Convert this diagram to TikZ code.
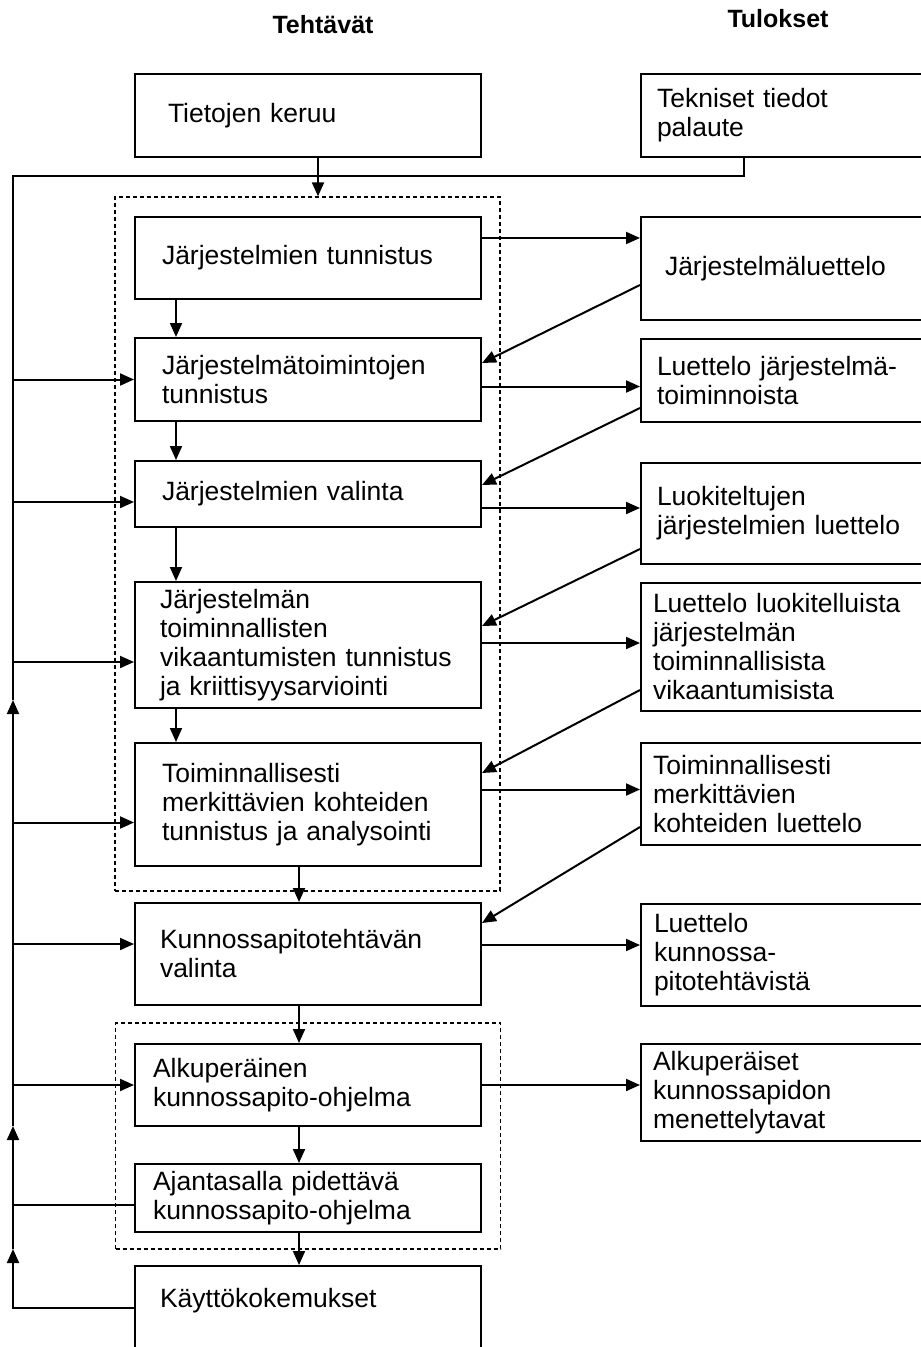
\documentclass[tikz,border=0pt]{standalone}
\usepackage{fontspec}
\setmainfont{Liberation Sans}
\usetikzlibrary{arrows.meta,calc,positioning}

\tikzset{
  task/.style={draw, line width=2pt, inner xsep=27pt, inner ysep=3pt, text width=292pt, align=left, font=\fontsize{26.5}{29}\selectfont},
  result/.style={draw, line width=2pt, inner xsep=16pt, inner ysep=3pt, text width=268pt, align=left, font=\fontsize{26.5}{29}\selectfont},
  group/.style={draw, line width=1.3pt, dash pattern=on 4pt off 3pt, minimum width=385pt},
  arr/.style={line width=2pt, -{Triangle[length=14pt,width=12pt]}},
  link/.style={line width=2pt},
  head/.style={font=\fontsize{25}{28}\selectfont\bfseries}
}

\begin{document}
\begin{tikzpicture}[x=1pt,y=-1pt]
    \useasboundingbox (0,0) rectangle (921,1347);

        \node[head] (tehtavat) at (323,25) {Tehtävät};
        \node[head] (tulokset) at (778,19) {Tulokset};

        % dashed groups
        \node[group, minimum height=694pt] (grpA) at (307.5,544) {};
        \node[group, minimum height=226pt] (grpB) at (308,1136) {};

        % tasks
        \node[task, minimum height=83pt, inner xsep=33pt, text width=280pt] (keruu) at (308,115.5) {Tietojen keruu};
        \node[task, minimum height=82pt] (tunn) at (308,258) {Järjestelmien tunnistus};
        \node[task, minimum height=83pt] (toim) at (308,379.5) {Järjestelmätoimintojen\\tunnistus};
        \node[task, minimum height=66pt] (valinta) at (308,494) {Järjestelmien valinta};
        \node[task, minimum height=126pt, inner xsep=25pt, text width=296pt] (vika) at (308,645) {Järjestelmän\\toiminnallisten\\vikaantumisten tunnistus\\ja kriittisyysarviointi};
        \node[task, minimum height=123pt] (merk) at (308,804.5) {Toiminnallisesti\\merkittävien kohteiden\\tunnistus ja analysointi};
        \node[task, minimum height=102pt, inner xsep=25pt, text width=296pt] (kunto) at (308,954) {Kunnossapitotehtävän\\valinta};
        \node[task, minimum height=82pt, inner xsep=18pt, text width=310pt] (alku) at (308,1085) {Alkuperäinen\\kunnossapito-ohjelma};
        \node[task, minimum height=68pt, inner xsep=18pt, text width=310pt] (ajan) at (308,1198) {Ajantasalla pidettävä\\kunnossapito-ohjelma};
        \node[task, minimum height=83pt, inner xsep=25pt, text width=296pt, text depth=20pt] (kaytto) at (308,1307.5) {Käyttökokemukset};

        % results
        \node[result, minimum height=83pt] (tekn) at (791,115.5) {Tekniset tiedot\\palaute};
        \node[result, minimum height=103pt, inner xsep=24pt, text width=252pt] (jl) at (791,268.5) {Järjestelmäluettelo};
        \node[result, minimum height=83pt] (ljt) at (791,380.5) {Luettelo järjestelmä-\\toiminnoista};
        \node[result, minimum height=101pt] (luok) at (791,513.5) {Luokiteltujen\\järjestelmien luettelo};
        \node[result, minimum height=128pt, inner xsep=12pt, text width=276pt] (lluok) at (791,647) {Luettelo luokitelluista\\järjestelmän\\toiminnallisista\\vikaantumisista};
        \node[result, minimum height=102pt, inner xsep=12pt, text width=276pt] (tmk) at (791,794) {Toiminnallisesti\\merkittävien\\kohteiden luettelo};
        \node[result, minimum height=102pt, inner xsep=13pt, text width=274pt] (lkun) at (791,955) {Luettelo\\kunnossa-\\pitotehtävistä};
        \node[result, minimum height=97pt, inner xsep=12pt, text width=276pt] (alkm) at (791,1092.5) {Alkuperäiset\\kunnossapidon\\menettelytavat};

        \coordinate (rail) at (13,176);
        \coordinate (up1) at (13,700);
        \coordinate (up2) at (13,1126);
        \coordinate (up3) at (13,1249);
        \coordinate (colA) at (176,0);
        \coordinate (colB) at (299,0);
        \coordinate (colC) at (318,0);

        % feedback loop on the left
        \draw[arr] (kaytto.west) -| (up3);
        \draw[arr] (up3) -- (up2);
        \draw[arr] (up2) -- (up1);
        \draw[link] (up1) -- (rail) -| ([xshift=-47pt]tekn.south);
        \draw[link] ($(ajan.west)+(0,7)$) -- ($(ajan.west -| rail)+(0,7)$);
        \foreach \b/\dy in {toim/0,valinta/8,vika/17,merk/18,kunto/-10,alku/0}
            \draw[arr] ($(\b.west -| rail)+(0,\dy)$) -- ($(\b.west)+(0,\dy)$);

        % down the task column
        \draw[arr] (keruu.south -| colC) -- (grpA.north -| colC);
        \foreach \a/\b in {tunn/toim,toim/valinta,valinta/vika,vika/merk}
            \draw[arr] (\a.south -| colA) -- (\b.north -| colA);
        \foreach \a/\b in {merk/kunto,kunto/alku,alku/ajan,ajan/kaytto}
            \draw[arr] (\a.south -| colB) -- (\b.north -| colB);

        % tasks to results and back
        \foreach \a/\b/\dy in {tunn/jl/-20,toim/ljt/7,valinta/luok/14,vika/lluok/-2,merk/tmk/-15,kunto/lkun/-9,alku/alkm/0}
            \draw[arr] ($(\a.east)+(0,\dy)$) -- ($(\b.west |- \a.east)+(0,\dy)$);
        \foreach \r/\t/\ra/\ta in {jl/toim/16.5/-16.5,ljt/valinta/27.5/-9,luok/vika/35.5/-19,lluok/merk/43/-31.5,tmk/kunto/33/-31}
            \draw[arr] ($(\r.west)+(0,\ra)$) -- ($(\t.east)+(0,\ta)$);
\end{tikzpicture}
\end{document}
